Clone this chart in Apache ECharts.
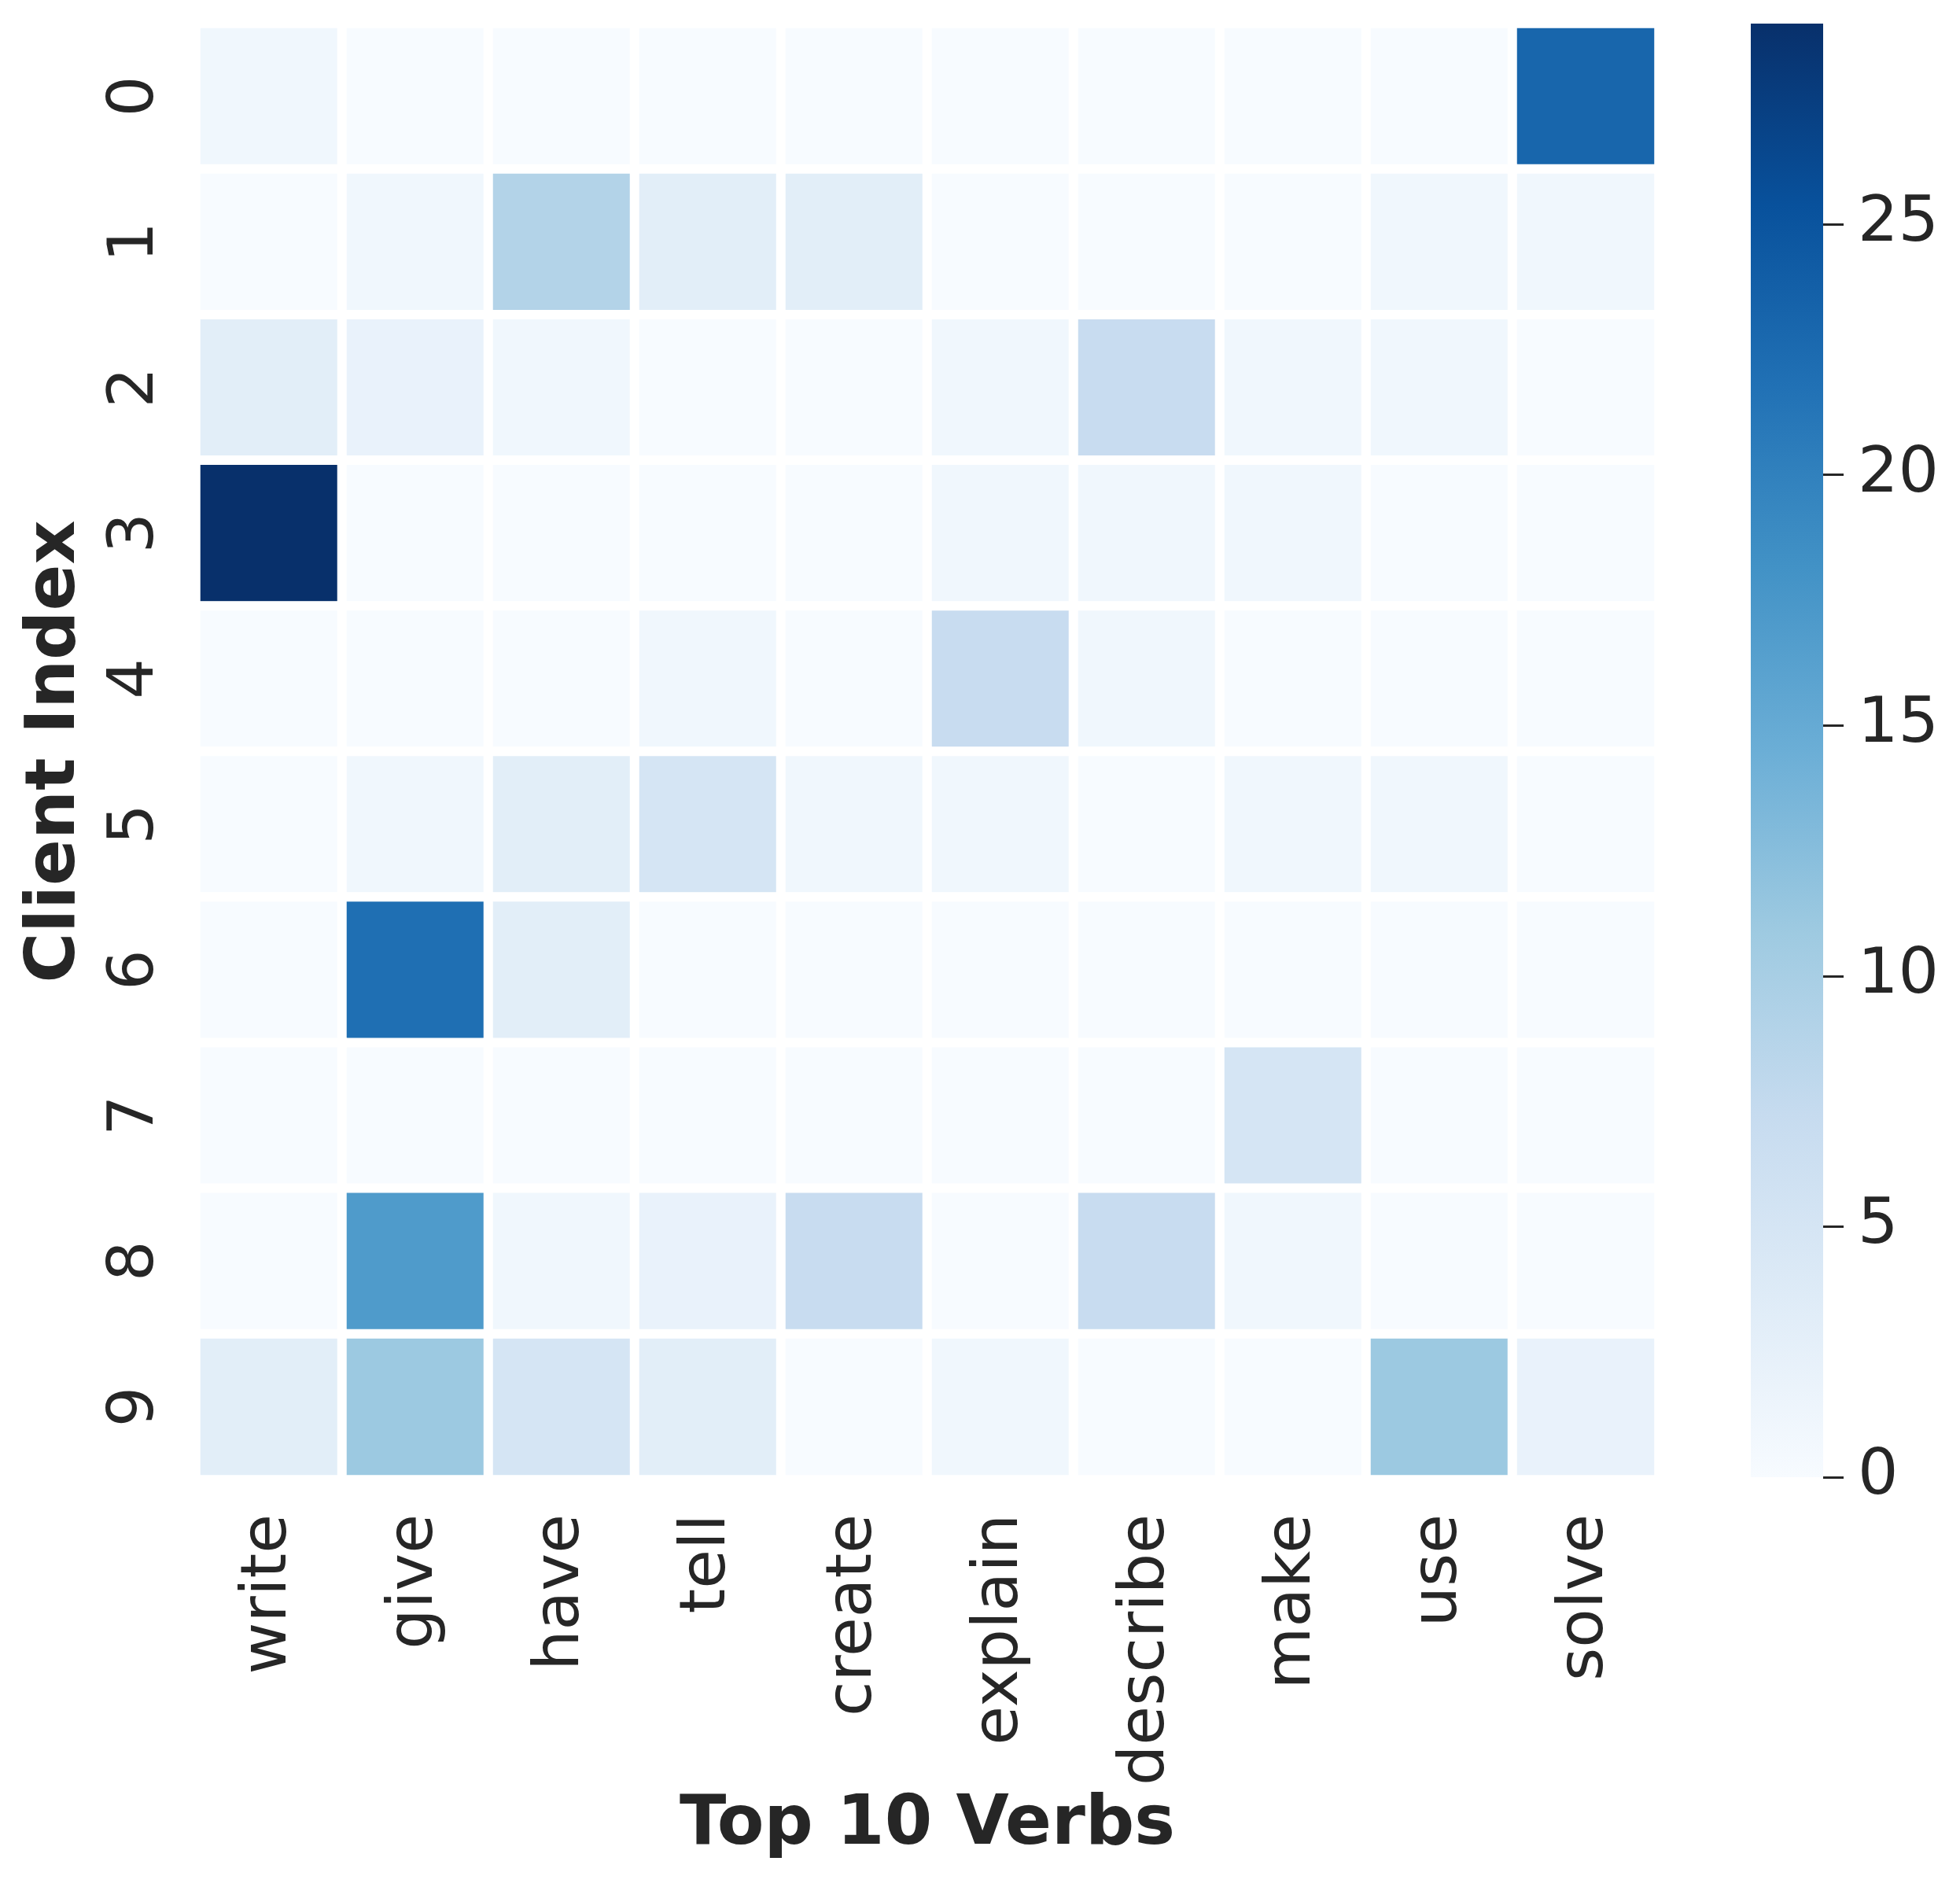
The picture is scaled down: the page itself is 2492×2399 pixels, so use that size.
<!DOCTYPE html>
<html>
<head>
<meta charset="utf-8">
<script src="https://cdn.jsdelivr.net/npm/echarts@6/dist/echarts.min.js"></script>
<style>
html,body{margin:0;padding:0;background:#fff;}
#chart{width:2492px;height:2399px;}
</style>
</head>
<body>
<div id="chart"></div>
<script>
// ---- data ----
const verbs = ['write','give','have','tell','create','explain','describe','make','use','solve'];
const clients = ['0','1','2','3','4','5','6','7','8','9'];
const client0 = [1, 0, 0, 0, 0, 0, 0, 0, 0, 23];
const client1 = [0, 1, 9, 3, 3, 0, 0, 0, 1, 1];
const client2 = [3, 2, 1, 0, 0, 1, 7, 1, 1, 0];
const client3 = [29, 0, 0, 0, 0, 1, 1, 1, 0, 0];
const client4 = [0, 0, 0, 1, 0, 7, 1, 0, 0, 0];
const client5 = [0, 1, 3, 5, 1, 1, 0, 1, 1, 0];
const client6 = [0, 22, 3, 0, 0, 0, 0, 0, 0, 0];
const client7 = [0, 0, 0, 0, 0, 0, 0, 5, 0, 0];
const client8 = [0, 17, 1, 2, 7, 0, 7, 1, 0, 0];
const client9 = [3, 11, 5, 3, 0, 1, 0, 0, 11, 2];
const colorbarTicks = [0, 5, 10, 15, 20, 25];
const colorMin = 0;
const colorMax = 29;

const rows = [client0, client1, client2, client3, client4, client5, client6, client7, client8, client9];
const cells = [];
rows.forEach((r, yi) => r.forEach((v, xi) => cells.push([xi, yi, v])));

const blues = ['#f7fbff','#deebf7','#c6dbef','#9ecae1','#6baed6','#4292c6','#2171b5','#08519c','#08306b'];
const font = 'DejaVu Sans';
const txt = '#262626';
const tickFont = 81;

const chart = echarts.init(document.getElementById('chart'), null, {renderer: 'canvas', devicePixelRatio: 1});
chart.setOption({
  backgroundColor: '#ffffff',
  animation: false,
  textStyle: {fontFamily: font, color: txt},
  grid: [
    {left: 249, top: 30, width: 1860, height: 1851},
    {left: 2226, top: 30, width: 92, height: 1848}
  ],
  xAxis: [
    {
      type: 'category', data: verbs, gridIndex: 0,
      axisLine: {show: false}, axisTick: {show: false}, splitLine: {show: false},
      axisLabel: {rotate: 90, fontSize: tickFont, color: txt, fontFamily: font, margin: 44, interval: 0},
      name: 'Top 10 Verbs', nameLocation: 'middle', nameGap: 389,
      nameTextStyle: {fontSize: 87, fontWeight: 'bold', color: txt, fontFamily: font}
    },
    {
      type: 'category', data: ['cb'], gridIndex: 1,
      show: false
    }
  ],
  yAxis: [
    {
      type: 'category', data: clients, gridIndex: 0, inverse: true,
      axisLine: {show: false}, axisTick: {show: false}, splitLine: {show: false},
      axisLabel: {rotate: 90, fontSize: tickFont, color: txt, fontFamily: font, margin: 36, interval: 0},
      name: 'Client Index', nameLocation: 'middle', nameGap: 134,
      nameTextStyle: {fontSize: 87, fontWeight: 'bold', color: txt, fontFamily: font}
    },
    {
      type: 'value', gridIndex: 1, position: 'right',
      min: colorMin, max: colorMax,
      axisLine: {show: false}, splitLine: {show: false},
      axisTick: {show: true, length: 26, lineStyle: {color: txt, width: 3}, customValues: colorbarTicks},
      axisLabel: {fontSize: tickFont, color: txt, fontFamily: font, margin: 44, customValues: colorbarTicks}
    }
  ],
  visualMap: {
    show: false, type: 'continuous', min: colorMin, max: colorMax,
    seriesIndex: 0, inRange: {color: blues}
  },
  series: [
    {
      type: 'heatmap', xAxisIndex: 0, yAxisIndex: 0, data: cells,
      itemStyle: {borderColor: '#ffffff', borderWidth: 12},
      emphasis: {disabled: true}
    },
    {
      type: 'bar', xAxisIndex: 1, yAxisIndex: 1, data: [colorMax], barWidth: '100%',
      itemStyle: {color: new echarts.graphic.LinearGradient(0, 1, 0, 0,
        blues.map((c, i) => ({offset: i / (blues.length - 1), color: c})))},
      silent: true
    }
  ]
});
</script>
</body>
</html>
